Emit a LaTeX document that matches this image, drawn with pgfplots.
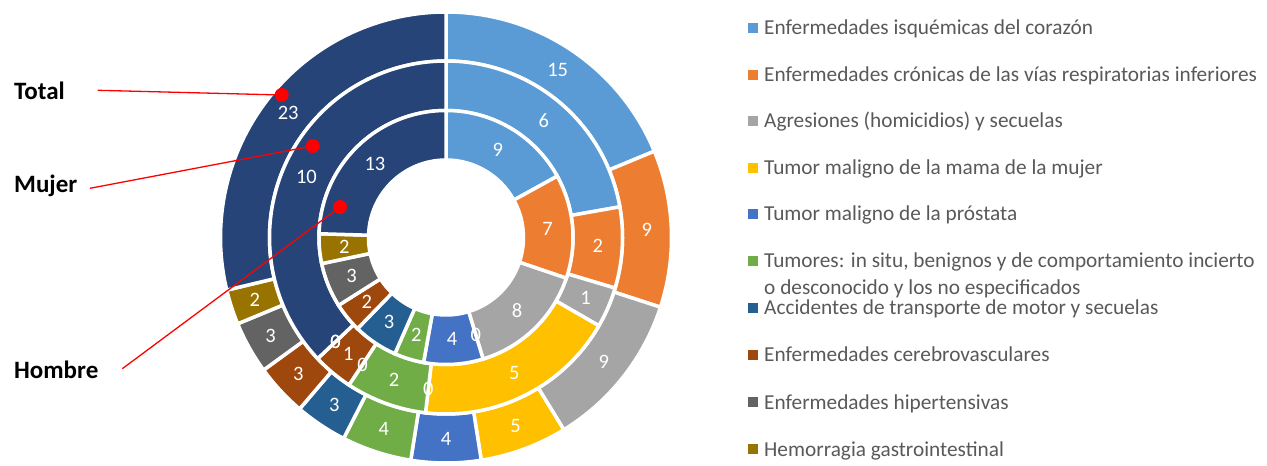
\documentclass[border=0pt]{standalone}
\usepackage{pgfplots}
\usepackage{pgfplotstable}
\pgfplotsset{compat=1.18}
\usepackage{fontspec}
\setmainfont{Carlito}

\definecolor{c0}{HTML}{5B9BD5}
\definecolor{c1}{HTML}{ED7D31}
\definecolor{c2}{HTML}{A5A5A5}
\definecolor{c3}{HTML}{FFC000}
\definecolor{c4}{HTML}{4472C4}
\definecolor{c5}{HTML}{70AD47}
\definecolor{c6}{HTML}{255E91}
\definecolor{c7}{HTML}{9E480E}
\definecolor{c8}{HTML}{636363}
\definecolor{c9}{HTML}{997300}
\definecolor{c10}{HTML}{264478}
\definecolor{legtext}{HTML}{595959}

% rows: categories in legend order (last row: remaining causes)
\pgfplotstableread{
cat total mujer hombre
0 15 6 9
1 9 2 7
2 9 1 8
3 5 5 0
4 4 0 4
5 4 2 2
6 3 0 3
7 3 1 2
8 3 0 3
9 2 0 2
10 23 10 13
}\data

\newcommand\lblfont{\fontsize{20.5bp}{24bp}\selectfont}
\newcommand\legfont{\fontsize{21.3bp}{25bp}\selectfont}
\newcommand\namefont{\fontsize{25bp}{29bp}\selectfont\bfseries}

% #1 column, #2 inner radius, #3 outer radius, #4 label radius, #5 mode (0 fill, 1 labels)
\newcommand\ring[5]{%
  \def\tot{0}%
  \pgfplotsforeachungrouped \i in {0,...,10}{%
    \pgfplotstablegetelem{\i}{#1}\of\data
    \pgfmathsetmacro\tot{\tot+\pgfplotsretval}%
  }%
  \def\cum{0}%
  \pgfplotsforeachungrouped \i in {0,...,10}{%
    \pgfplotstablegetelem{\i}{#1}\of\data
    \let\vv\pgfplotsretval
    \pgfmathsetmacro\aA{90-360*(\cum/\tot)}%
    \pgfmathsetmacro\cum{\cum+\vv}%
    \pgfmathsetmacro\aB{90-360*(\cum/\tot)}%
    \pgfmathsetmacro\aM{(\aA+\aB)/2}%
    \pgfmathsetmacro\xA{446+#3*cos(\aA)}%
    \pgfmathsetmacro\yA{224.5+#3*sin(\aA)}%
    \pgfmathsetmacro\xB{446+#2*cos(\aB)}%
    \pgfmathsetmacro\yB{224.5+#2*sin(\aB)}%
    \pgfmathsetmacro\xL{446+#4*cos(\aM)}%
    \pgfmathsetmacro\yL{224.5+#4*sin(\aM)}%
    \pgfmathtruncatemacro\vi{\vv}%
    \ifnum#5=0
      \ifnum\vi>0
        \edef\tmp{\noexpand\fill[c\i,draw=white,line width=3.5bp] (axis cs:\xA,\yA) arc[start angle=\aA,end angle=\aB,radius=#3bp] -- (axis cs:\xB,\yB) arc[start angle=\aB,end angle=\aA,radius=#2bp] -- cycle;}\tmp
      \fi
    \else
      \edef\tmp{\noexpand\node[text=white,font=\noexpand\lblfont,inner sep=0pt] at (axis cs:\xL,\yL) {\vi};}\tmp
    \fi
  }%
}

\begin{document}
\begin{tikzpicture}
\begin{axis}[
  width=1267bp, height=462bp, scale only axis,
  xmin=0, xmax=1267, ymin=0, ymax=462,
  hide axis, clip=false,
]
\path (axis cs:0,0) rectangle (axis cs:1267,462);
% rings: outer Total, middle Mujer, inner Hombre
\ring{total}{176.5}{225.5}{201}{0}
\ring{mujer}{127}{176.5}{152}{0}
\ring{hombre}{77.5}{127}{102}{0}
\ring{total}{176.5}{225.5}{201}{1}
\ring{mujer}{127}{176.5}{152}{1}
\ring{hombre}{77.5}{127}{102}{1}

% ring names with pointers
\draw[red, line width=1.3bp] (axis cs:97.7,371.7) -- (axis cs:281.7,367);
\draw[red, line width=1.3bp] (axis cs:90,273.7) -- (axis cs:312.7,316);
\draw[red, line width=1.3bp] (axis cs:122.3,93.3) -- (axis cs:340,255);
\fill[red] (axis cs:281.7,367) circle[radius=7bp];
\fill[red] (axis cs:312.7,316) circle[radius=7bp];
\fill[red] (axis cs:340,255) circle[radius=7bp];
\node[anchor=base west, font=\namefont, inner sep=0pt] at (axis cs:14,362.5) {Total};
\node[anchor=base west, font=\namefont, inner sep=0pt] at (axis cs:14,269.5) {Mujer};
\node[anchor=base west, font=\namefont, inner sep=0pt] at (axis cs:14,83.5) {Hombre};

% legend
\foreach \k/\yy/\txt in {
  0/28/{Enfermedades isquémicas del corazón},
  1/75/{Enfermedades crónicas de las vías respiratorias inferiores},
  2/121/{Agresiones (homicidios) y secuelas},
  3/168/{Tumor maligno de la mama de la mujer},
  4/214/{Tumor maligno de la próstata},
  5/261/{Tumores: in situ, benignos y de comportamiento incierto},
  6/308/{Accidentes de transporte de motor y secuelas},
  7/355/{Enfermedades cerebrovasculares},
  8/402/{Enfermedades hipertensivas},
  9/449/{Hemorragia gastrointestinal}}{
  \edef\tmp{\noexpand\fill[c\k] (axis cs:748,{457-\yy}) rectangle (axis cs:758,{467-\yy});
  \noexpand\node[anchor=base west, font=\noexpand\legfont, text=legtext, inner sep=0pt] at (axis cs:764,{455-\yy}) {\unexpanded\expandafter{\txt}};}\tmp
}
\node[anchor=base west, font=\legfont, text=legtext, inner sep=0pt] at (axis cs:764,167) {o desconocido y los no especificados};
\end{axis}
\end{tikzpicture}
\end{document}
